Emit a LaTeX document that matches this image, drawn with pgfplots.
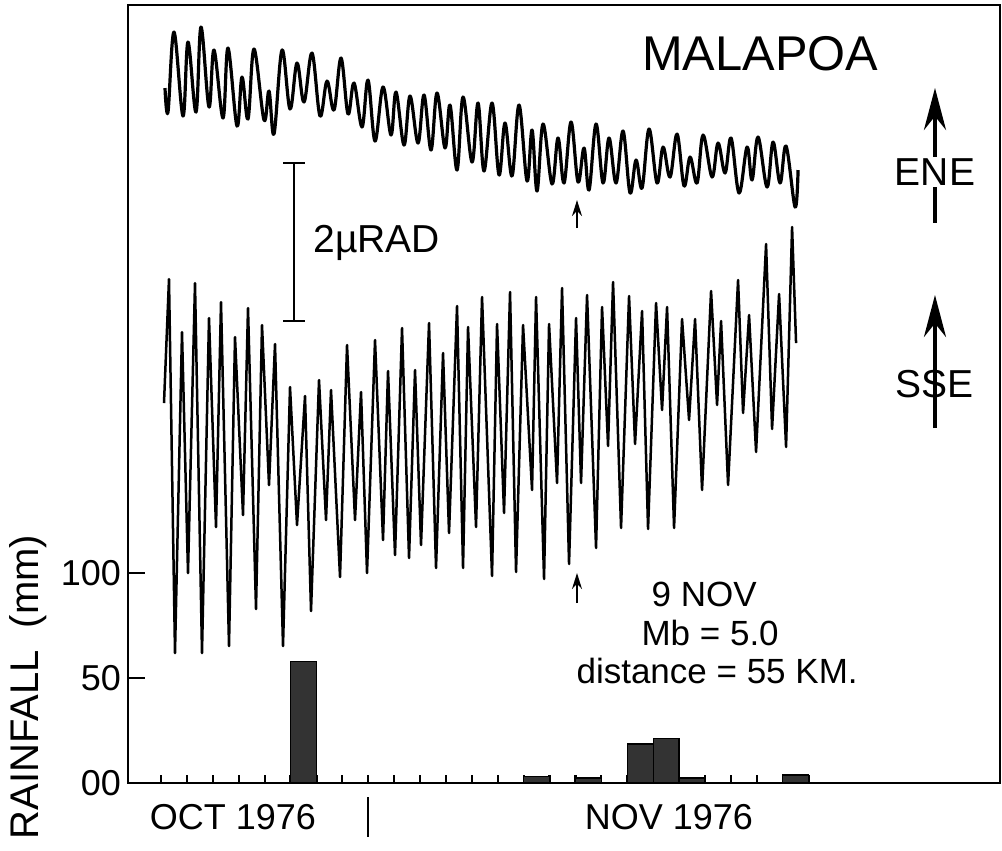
\documentclass[border=0pt]{standalone}
\usepackage{fontspec}
\setmainfont{Liberation Sans}
\usepackage{pgfplots}
\pgfplotsset{compat=1.18}
\usetikzlibrary{arrows.meta}
\begin{document}
\begin{tikzpicture}[x=1pt,y=1pt]
\useasboundingbox (-64,-34) rectangle (437,391.5);
\begin{axis}[
  at={(0,0)}, anchor=south west,
  scale only axis, width=436pt, height=389pt,
  xmin=-1.274, xmax=32.39, ymin=0, ymax=370.5,
  clip=false,
  axis line style={line width=1.3pt},
  every tick/.style={black, line width=1.1pt},
  tick align=inside,
  xtick pos=bottom, ytick pos=left,
  xtick=\empty,
  extra x ticks={0,...,25}, extra x tick labels={},
  extra x tick style={major tick length=4pt},
  major tick length=8.5pt,
  ytick={0,50,100}, yticklabels={00,50,100},
  yticklabel style={font=\fontsize{18}{18}\selectfont},
]
% rainfall (mm) per day
\addplot[ybar, bar width=1, fill=black!80, draw=black, line width=0.6pt]
  coordinates {(5.5,58) (14.5,3) (16.5,2.4) (18.5,18.6) (19.5,21) (20.5,2.4) (24.5,3.8)};

% ENE tilt trace (digitized record)
\addplot[line width=1.6pt, smooth, tension=0.6, line join=round]
  table[header=false, x expr={(\thisrowno{0}-161)/25.9}, y expr={(783-\thisrowno{1})/2.1}] {
165 88
168 112
174 32
183 116
188 42
196 112
201 27
209 107
214 50
223 118
228 48
237 126
242 77
248 119
254 49
264 120
269 91
274 134
282 50
290 109
297 63
304 102
312 53
320 116
327 81
334 110
341 58
348 114
354 83
362 127
368 80
375 141
383 87
391 135
396 92
404 145
410 96
418 143
424 95
431 150
437 93
445 148
450 105
457 170
463 97
472 162
478 103
484 171
492 103
499 175
505 123
512 176
519 105
527 181
532 130
537 191
543 124
552 184
558 138
564 183
571 122
578 182
584 148
589 190
596 124
603 183
609 138
616 183
623 131
630 193
636 160
642 188
649 129
657 183
663 147
670 177
677 134
684 186
690 157
697 183
703 135
712 177
718 143
725 173
731 138
739 193
747 147
752 180
758 137
767 187
773 142
780 183
786 146
795 207
798 170
};

% SSE tilt trace (digitized record)
\addplot[line width=1.25pt, line join=round]
  table[header=false, x expr={(\thisrowno{0}-161)/25.9}, y expr={(783-\thisrowno{1})/2.1}] {
164 403
169 279
175 653
182 332
188 573
195 283
202 653
209 318
216 527
221 302
229 646
235 337
243 515
248 308
256 609
262 325
269 485
275 344
283 646
290 387
297 525
305 396
311 611
319 380
326 520
331 390
340 577
347 345
355 520
361 392
367 573
375 340
383 540
388 371
395 555
402 328
409 558
415 370
421 545
429 323
436 568
443 353
449 533
457 306
463 568
468 327
476 527
482 297
492 576
497 324
504 513
510 292
516 572
523 325
532 490
536 297
544 579
549 324
557 483
562 288
569 564
576 318
581 483
587 295
596 548
602 307
608 446
613 282
621 528
629 296
635 444
642 311
648 529
656 303
662 410
667 307
674 528
682 319
689 420
695 319
702 490
711 291
717 405
721 321
728 485
738 280
743 413
749 315
756 452
766 244
772 429
779 294
786 447
792 227
796 343
};

% annotations
\node[font=\fontsize{24.4}{26}\selectfont] at (23.13,347.1) {MALAPOA};
\draw[line width=2.2pt, -{Stealth[length=21pt,width=11pt]}] (29.88,266.7) -- (29.88,331.0);
\node[font=\fontsize{19.5}{20}\selectfont, fill=white, inner sep=1pt] at (29.88,291.0) {ENE};
\draw[line width=2.2pt, -{Stealth[length=21pt,width=11pt]}] (29.88,169.0) -- (29.88,232.4);
\node[font=\fontsize{19.5}{20}\selectfont, inner sep=1pt] at (29.88,190.0) {SSE};

\draw[line width=1.2pt] (5.135,295.2) -- (5.135,220.0);
\draw[line width=1.2pt] (4.71,295.2) -- (5.56,295.2);
\draw[line width=1.2pt] (4.71,220.0) -- (5.56,220.0);
\node[anchor=west, font=\fontsize{19.5}{20}\selectfont, inner sep=0pt] at (5.87,257.1) {2µRAD};

\draw[line width=0.8pt, -{Stealth[length=8pt,width=5pt]}] (16.06,264.3) -- (16.06,277.6);
\draw[line width=0.8pt, -{Stealth[length=8pt,width=5pt]}] (16.06,85.7) -- (16.06,100.0);

\node[font=\fontsize{17.5}{18}\selectfont] at (20.97,90.0) {9 NOV};
\node[font=\fontsize{17.5}{18}\selectfont] at (21.2,71.4) {Mb = 5.0};
\node[font=\fontsize{17.5}{18}\selectfont] at (21.47,53.3) {distance = 55 KM.};

\node[font=\fontsize{18}{18}\selectfont] at (2.78,-16.2) {OCT 1976};
\node[font=\fontsize{18}{18}\selectfont] at (19.61,-16.2) {NOV 1976};
\draw[line width=1.2pt] (8,-6.7) -- (8,-25.7);

\node[rotate=90, font=\fontsize{20}{20}\selectfont] at (-5.14,45.7) {RAINFALL\ \ (mm)};
\end{axis}
\end{tikzpicture}
\end{document}
